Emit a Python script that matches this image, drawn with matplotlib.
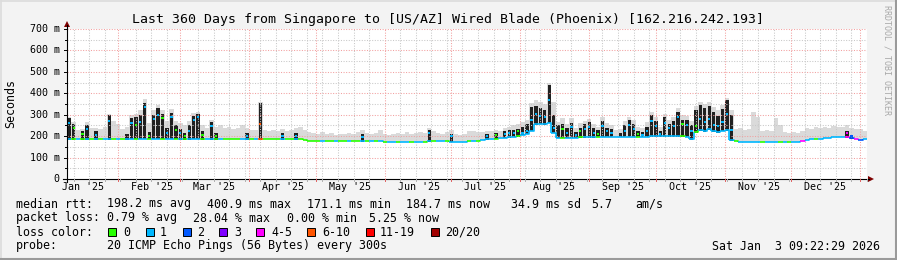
import matplotlib
matplotlib.use("Agg")

from datetime import datetime, timedelta

import numpy as np
import matplotlib.pyplot as plt
from matplotlib.collections import LineCollection
from matplotlib.patches import Polygon, Rectangle

TITLE = "Last 360 Days from Singapore to [US/AZ] Wired Blade (Phoenix) [162.216.242.193]"
START = datetime(2025, 1, 9, 1, 0)
SPAN_DAYS = 360
BIN_DAYS = 2

# median rtt per 2-day bin (ms), the coloured line along the bottom of the smoke
median_ms = [
    186, 186, 186, 186, 186, 186, 186, 186, 186, 186,
    186, 186, 186, 186, 187, 187, 188, 188, 187, 188,
    188, 188, 187, 188, 187, 186, 186, 186, 187, 187,
    186, 186, 186, 186, 185, 185, 185, 185, 185, 185,
    185, 185, 185, 185, 185, 185, 185, 185, 185, 185,
    185, 185, 185, 184, 178, 177, 177, 177, 177, 176,
    176, 177, 176, 176, 177, 177, 177, 176, 176, 176,
    176, 175, 175, 175, 174, 172, 172, 174, 175, 175,
    175, 176, 176, 176, 176, 176, 174, 172, 172, 173,
    178, 178, 179, 180, 186, 188, 188, 190, 192, 195,
    198, 200, 206, 212, 225, 255, 258, 255, 262, 215,
    192, 192, 193, 193, 193, 194, 194, 195, 195, 196,
    197, 197, 197, 197, 197, 198, 198, 198, 198, 198,
    198, 199, 199, 199, 199, 200, 200, 200, 200, 198,
    185, 218, 228, 222, 232, 222, 218, 224, 228, 180,
    177, 175, 174, 173, 173, 173, 173, 173, 173, 173,
    173, 173, 173, 173, 173, 176, 183, 185, 186, 188,
    191, 193, 195, 196, 196, 195, 190, 186, 184, 185,
]

# median inside a spike (ms), 0 = no spike in that bin
median_peak = [
    262, 240, 0, 212, 232, 0, 206, 0, 0, 272,
    0, 0, 0, 0, 262, 252, 268, 338, 200, 280,
    300, 284, 215, 290, 228, 214, 200, 226, 276, 290,
    206, 0, 246, 200, 0, 0, 0, 0, 0, 0,
    200, 0, 0, 256, 0, 0, 0, 0, 200, 0,
    0, 200, 0, 0, 0, 0, 0, 0, 0, 0,
    0, 0, 0, 0, 0, 0, 198, 0, 0, 0,
    0, 0, 0, 0, 0, 0, 0, 0, 0, 0,
    0, 215, 0, 0, 0, 0, 200, 0, 0, 0,
    0, 0, 0, 0, 200, 0, 205, 0, 212, 215,
    215, 222, 215, 222, 275, 305, 292, 288, 368, 240,
    0, 232, 215, 242, 205, 222, 232, 242, 216, 210,
    248, 222, 214, 0, 0, 226, 252, 232, 210, 206,
    226, 272, 246, 210, 262, 236, 246, 288, 256, 252,
    226, 248, 280, 268, 282, 252, 246, 268, 305, 230,
    0, 0, 0, 0, 0, 0, 0, 0, 0, 0,
    0, 0, 0, 0, 0, 0, 0, 0, 0, 0,
    0, 0, 0, 0, 0, 214, 200, 0, 0, 0,
]

# top of the dark smoke (ms), 0 = none
dark_top = [
    285, 255, 0, 225, 250, 0, 225, 0, 0, 300,
    0, 0, 0, 212, 285, 290, 300, 355, 220, 300,
    330, 305, 240, 310, 250, 235, 215, 250, 295, 305,
    225, 0, 265, 215, 0, 0, 0, 0, 0, 0,
    215, 0, 0, 355, 0, 0, 0, 0, 215, 0,
    0, 215, 0, 0, 0, 0, 0, 0, 0, 0,
    0, 0, 0, 0, 0, 0, 212, 0, 0, 0,
    0, 0, 0, 0, 0, 0, 0, 0, 0, 0,
    0, 228, 0, 0, 0, 0, 212, 0, 0, 0,
    0, 0, 0, 0, 210, 0, 215, 0, 225, 230,
    228, 235, 245, 255, 335, 340, 330, 320, 440, 300,
    250, 258, 237, 262, 220, 240, 255, 265, 238, 228,
    270, 240, 232, 0, 215, 250, 275, 255, 225, 220,
    245, 298, 270, 225, 290, 255, 270, 314, 275, 275,
    250, 320, 345, 330, 340, 315, 295, 325, 370, 300,
    0, 0, 0, 0, 0, 0, 0, 0, 0, 0,
    0, 0, 0, 0, 0, 0, 0, 0, 0, 0,
    0, 0, 0, 0, 0, 222, 205, 0, 0, 0,
]

# top of the light smoke (max ping, ms)
smoke_top = [
    290, 265, 230, 235, 265, 240, 240, 235, 245, 305,
    270, 255, 235, 245, 300, 305, 320, 375, 260, 320,
    345, 320, 270, 325, 270, 260, 250, 270, 310, 315,
    250, 240, 275, 245, 250, 240, 245, 235, 240, 250,
    240, 230, 230, 360, 230, 225, 230, 225, 235, 225,
    230, 240, 245, 230, 220, 215, 210, 220, 210, 215,
    205, 210, 210, 215, 210, 220, 230, 215, 210, 215,
    228, 210, 205, 210, 215, 210, 220, 210, 215, 220,
    215, 240, 225, 215, 210, 220, 228, 210, 205, 210,
    222, 225, 220, 218, 225, 222, 230, 225, 240, 245,
    250, 255, 265, 275, 355, 370, 360, 350, 450, 360,
    265, 285, 255, 285, 240, 260, 270, 280, 255, 245,
    290, 260, 250, 230, 235, 270, 290, 275, 245, 240,
    265, 315, 290, 245, 305, 275, 290, 330, 300, 295,
    270, 340, 360, 350, 360, 335, 320, 345, 380, 320,
    235, 240, 228, 232, 314, 290, 225, 230, 225, 283,
    250, 220, 215, 220, 215, 225, 240, 235, 245, 240,
    245, 238, 248, 242, 245, 250, 238, 235, 232, 225,
]

# loss class per bin, index into loss_colors
loss_class = [
    1, 0, 1, 0, 1, 0, 1, 0, 1, 1,
    0, 1, 0, 1, 1, 0, 1, 1, 0, 1,
    1, 0, 1, 1, 0, 1, 0, 1, 1, 1,
    0, 1, 1, 0, 1, 0, 0, 0, 0, 1,
    1, 0, 1, 5, 0, 0, 0, 0, 1, 0,
    0, 1, 0, 0, 0, 0, 0, 1, 0, 0,
    1, 0, 0, 1, 0, 0, 1, 0, 1, 0,
    1, 0, 1, 1, 0, 1, 1, 0, 1, 1,
    0, 1, 0, 1, 1, 0, 1, 1, 1, 1,
    0, 1, 0, 1, 1, 1, 0, 1, 1, 1,
    1, 0, 1, 1, 1, 1, 1, 1, 1, 1,
    1, 0, 1, 1, 1, 0, 1, 1, 1, 0,
    1, 1, 1, 1, 1, 1, 1, 1, 0, 1,
    1, 1, 1, 1, 1, 1, 1, 1, 0, 1,
    1, 0, 1, 1, 1, 1, 1, 1, 1, 1,
    0, 1, 1, 1, 1, 1, 0, 1, 1, 1,
    0, 1, 0, 1, 1, 4, 1, 1, 0, 1,
    1, 1, 1, 1, 1, 4, 2, 4, 2, 1,
]

loss_labels = ["0", "1", "2", "3", "4-5", "6-10", "11-19", "20/20"]
loss_colors = ["#26ff00", "#00b8ff", "#0059ff", "#7e00ff",
               "#ff00ff", "#ff5500", "#ff0000", "#a10000"]

month_labels = ["Jan '25", "Feb '25", "Mar '25", "Apr '25", "May '25", "Jun '25",
                "Jul '25", "Aug '25", "Sep '25", "Oct '25", "Nov '25", "Dec '25"]
y_ticks = [0, 100, 200, 300, 400, 500, 600, 700]

rtt_stats = ["198.2 ms avg", "400.9 ms max", "171.1 ms min", "184.7 ms now",
             "34.9 ms sd", "5.7", "am/s"]
loss_stats = ["0.79 % avg", "28.04 % max", "0.00 % min", "5.25 % now"]
probe_text = "20 ICMP Echo Pings (56 Bytes) every 300s"
stamp_text = "Sat Jan  3 09:22:29 2026"

W, H, DPI = 897, 260, 100
PLOT_L, PLOT_R, PLOT_B, PLOT_T = 67, 867, 179, 29
Y_MAX = 700
MONO = "DejaVu Sans Mono"
GRID = "#c8c8c8"
MGRID = "#f2a0a0"
ARROW = "#7f0000"


def day(dt):
    return (dt - START).total_seconds() / 86400.0


def px_x(d):
    return PLOT_L + d * (PLOT_R - PLOT_L) / SPAN_DAYS


def px_y(v):
    return PLOT_B - v * (PLOT_B - PLOT_T) / Y_MAX


fig = plt.figure(figsize=(W / DPI, H / DPI), dpi=DPI, facecolor="#f3f3f3")
ax = fig.add_axes([PLOT_L / W, (H - PLOT_B) / H,
                   (PLOT_R - PLOT_L) / W, (PLOT_B - PLOT_T) / H])
ax.set_facecolor("white")
ax.set_xlim(0, SPAN_DAYS)
ax.set_ylim(0, Y_MAX)
ax.set_xticks([])
ax.set_yticks([])
for s in ax.spines.values():
    s.set_visible(False)

n = len(median_ms)
edges = np.arange(n + 1) * BIN_DAYS
med = np.array(median_ms, float)
peak = np.array(median_peak, float)
dark = np.array(dark_top, float)
smoke = np.array(smoke_top, float)

# light smoke
ax.fill_between(edges, np.append(med, med[-1]), np.append(smoke, smoke[-1]),
                step="post", color="#dadada", linewidth=0, zorder=1)

# dark smoke spikes
has = dark > 0
ax.bar(edges[:-1][has] + 0.25, dark[has] - med[has] + 2, bottom=med[has] - 2,
       width=BIN_DAYS - 0.5, align="edge", color="#202020", linewidth=0, zorder=2)

# grid
for v in range(50, Y_MAX + 1, 50):
    ax.axhline(v, color=MGRID if v % 100 == 0 else GRID, lw=0.75,
               ls=(0, (1, 1.5)), zorder=3)
month_starts = [datetime(2025, m, 1) for m in range(2, 13)] + [datetime(2026, 1, 1)]
month_days = [day(m) for m in month_starts]
wk = datetime(2025, 1, 12)
week_days = []
while day(wk) < SPAN_DAYS:
    week_days.append(day(wk))
    wk += timedelta(days=7)
for d in week_days:
    if min(abs(d - m) for m in month_days) > 1.5:
        ax.axvline(d, color=GRID, lw=0.75, ls=(0, (1, 1.5)), zorder=3)
for d in month_days:
    ax.axvline(d, color=MGRID, lw=0.75, ls=(0, (1, 1.5)), zorder=3)

# median line coloured by loss
segs, cols = [], []
for i in range(n):
    x0, x1 = edges[i], edges[i + 1]
    pts = [(x0, med[i]), (x1, med[i])]
    if i + 1 < n:
        pts.append((x1, med[i + 1]))
    segs.append(pts)
    cols.append(loss_colors[loss_class[i]])
ax.add_collection(LineCollection(segs, colors=cols, linewidths=1.2, zorder=4))
pk = peak > 0
ax.hlines(peak[pk], edges[:-1][pk] + 0.5, edges[:-1][pk] + 1.5,
          colors=[loss_colors[c] for c, p in zip(loss_class, pk) if p],
          linewidth=1.4, zorder=4)

# overlay in pixel coordinates for frame, axes, arrows and text
ov = fig.add_axes([0, 0, 1, 1], facecolor="none")
ov.set_xlim(0, W)
ov.set_ylim(H, 0)
ov.axis("off")

ov.plot([0.5, W - 0.5], [0.5, 0.5], color="#dcdcdc", lw=1.2)
ov.plot([0.5, 0.5], [0.5, H - 0.5], color="#dcdcdc", lw=1.2)
ov.plot([0, W], [H - 1, H - 1], color="#9a9a9a", lw=1.5)
ov.plot([W - 1, W - 1], [0, H], color="#9a9a9a", lw=1.5)

ov.plot([63, 869], [PLOT_B, PLOT_B], color="black", lw=0.8)
ov.plot([PLOT_L, PLOT_L], [PLOT_B + 3, 25], color="black", lw=0.8)
ov.add_patch(Polygon([[868, PLOT_B - 3], [874, PLOT_B], [868, PLOT_B + 3]],
                     closed=True, color=ARROW, lw=0))
ov.add_patch(Polygon([[PLOT_L - 3, 27], [PLOT_L, 21], [PLOT_L + 3, 27]],
                     closed=True, color=ARROW, lw=0))

for d in week_days:
    ov.plot([px_x(d)] * 2, [PLOT_B, PLOT_B + 2], color="#b0b0b0", lw=0.7)
for d in month_days:
    ov.plot([px_x(d)] * 2, [PLOT_B, PLOT_B + 2], color="#e06060", lw=0.7)
for v in range(0, Y_MAX + 1, 50):
    ov.plot([PLOT_L - (3 if v % 100 == 0 else 2), PLOT_L], [px_y(v)] * 2,
            color="black", lw=0.7)

for v in y_ticks:
    ov.text(59.5, px_y(v), "0" if v == 0 else f"{v} m", ha="right", va="center",
            family=MONO, fontsize=7.2)

for m, lab in enumerate(month_labels):
    d = day(datetime(2025, m + 1, 16, 6))
    ov.text(px_x(d), 187.5, lab, ha="center", va="center", family=MONO, fontsize=7.2)

ov.text(448, 19, TITLE, ha="center", va="center", family=MONO, fontsize=9.5)
ov.text(11, 103, "Seconds", rotation=90, ha="center", va="center",
        family=MONO, fontsize=8.4)
ov.text(887, 60, "RRDTOOL / TOBI OETIKER", rotation=-90, ha="center", va="center",
        family=MONO, fontsize=6, color="#a8a8a8")

LEG = 8.4
ov.text(16, 204, "median rtt:", va="center", family=MONO, fontsize=LEG)
for x, s in zip([107, 207, 307, 406, 511, 591, 635], rtt_stats):
    ov.text(x, 204, s, va="center", family=MONO, fontsize=LEG)
ov.text(16, 218, "packet loss:", va="center", family=MONO, fontsize=LEG)
for x, s in zip([107, 193, 287, 369], loss_stats):
    ov.text(x, 218, s, va="center", family=MONO, fontsize=LEG)
ov.text(16, 232, "loss color:", va="center", family=MONO, fontsize=LEG)
for bx, tx, c, lab in zip([108, 146, 183, 219, 256, 307, 366, 431],
                          [123, 160, 197, 234, 271, 322, 380, 445],
                          loss_colors, loss_labels):
    ov.add_patch(Rectangle((bx, 228), 8, 8, facecolor=c, edgecolor="black", lw=0.7))
    ov.text(tx, 232, lab, va="center", family=MONO, fontsize=LEG)
ov.text(16, 246, "probe:", va="center", family=MONO, fontsize=LEG)
ov.text(107, 246, probe_text, va="center", family=MONO, fontsize=LEG)
ov.text(880, 246, stamp_text, ha="right", va="center", family=MONO, fontsize=LEG)

fig.savefig("out.png", dpi=DPI, facecolor=fig.get_facecolor())
